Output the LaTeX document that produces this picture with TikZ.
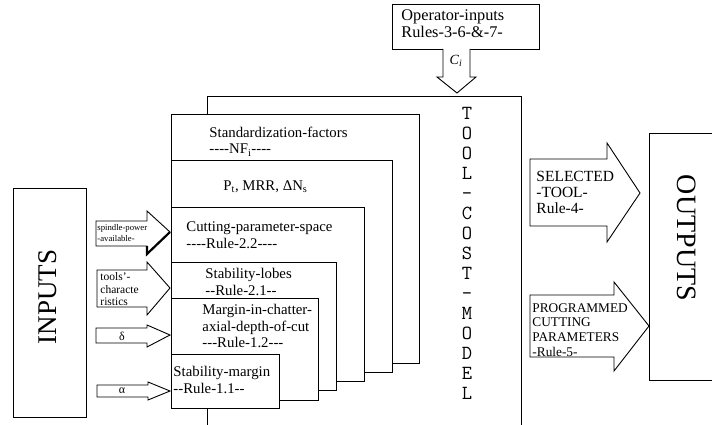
\documentclass[tikz,border=0pt]{standalone}
\usepackage{fontspec}
\setmainfont{Liberation Serif}
\newcommand\hy{-\kern0pt}
\begin{document}
\begin{tikzpicture}[x=1pt,y=-1pt,line width=0.9pt,
  box/.style={draw,fill=white},
  blockarrow/.style={draw,fill=white,line join=miter},
  txt/.style={inner sep=0pt,anchor=west,align=left,font=\fontsize{14.8}{16.5}\selectfont},
  ]
\useasboundingbox (0,0) rectangle (712,425);
\fill[white] (0,0) rectangle (712,425);

% tool cost model outer box
\draw[fill=white] (207,425) -- (207,96) -- (521,96) -- (521,425);
\node[inner sep=0pt,align=center,font=\ttfamily\fontsize{20}{20}\selectfont] (tcm) at (467,253)
  {T\\O\\O\\L\\-\\C\\O\\S\\T\\-\\M\\O\\D\\E\\L};

% nested boxes
\draw[box] (171,114) rectangle (419,363);
\draw[box] (171,160) rectangle (392,372);
\draw[box] (171,207) rectangle (364,381);
\draw[box] (171,262) rectangle (336,390);
\draw[box] (171,298) rectangle (318,400);
\draw[box] (171,354) rectangle (279,408);

\node[txt] (b1t) at (209,141.5) {Standardization-factors\\\hy\hy\hy\hy NF\textsubscript{i}\hy\hy\hy\hy};
\node[txt] (b2t) at (223,187) {P\textsubscript{t}, MRR, ΔN\textsubscript{s}};
\node[txt] (b3t) at (186,235) {Cutting-parameter-space\\\hy\hy\hy\hy Rule-2.2\hy\hy\hy\hy};
\node[txt] (b4t) at (205,282) {Stability-lobes\\\hy\hy Rule-2.1\hy\hy};
\node[txt] (b5t) at (202,326) {Margin-in-chatter-\\axial-depth-of-cut\\\hy\hy\hy Rule-1.2\hy\hy\hy};
\node[txt] (b6t) at (173,380) {Stability-margin\\\hy\hy Rule-1.1\hy\hy};

% operator inputs
\draw[box] (392,4) rectangle (539,49);
\node[txt,font=\fontsize{16.3}{17}\selectfont] (opt) at (401,23.5) {Operator-inputs\\Rules-3-6-\&-7-};
\draw[blockarrow] (443,49) -- (443,77) -- (437,77) -- (457,93) -- (476,77) -- (470,77) -- (470,49);
\node[inner sep=0pt,font=\fontsize{14}{14}\selectfont\itshape] (ci) at (456,61) {C\textsubscript{i}};

% inputs
\draw[box] (13,188) rectangle (86,417);
\node[rotate=90,inner sep=0pt,font=\fontsize{27}{27}\selectfont] (inp) at (48,297) {INPUTS};

\draw[blockarrow] (96,221) -- (147,221) -- (147,211) -- (170,232) -- (147,254) -- (147,246) -- (96,246) -- cycle;
\draw[line width=2.2pt] (147,246) -- (147,254) -- (170,232);
\node[txt,font=\fontsize{8.7}{11}\selectfont] (spt) at (97,233.5) {spindle-power\\-available-};

\draw[blockarrow] (97,270) -- (147,270) -- (147,262) -- (170,288) -- (147,315) -- (147,307) -- (97,307) -- cycle;
\node[txt,font=\fontsize{11.5}{12.5}\selectfont] (tct) at (100,289.5) {tools’-\\characte\\ristics};

\draw[blockarrow] (96,328) -- (147,328) -- (147,325) -- (170,335) -- (147,347) -- (147,343) -- (96,343) -- cycle;
\node[inner sep=0pt,font=\fontsize{12}{12}\selectfont] (dl) at (122,336) {δ};

\draw[blockarrow] (97,385) -- (148,385) -- (148,382) -- (170,391) -- (148,400) -- (148,397) -- (97,397) -- cycle;
\node[inner sep=0pt,font=\fontsize{12}{12}\selectfont] (al) at (122,391) {α};

% outputs
\draw[blockarrow] (530,159) -- (607,159) -- (607,143) -- (640,193) -- (607,242) -- (607,226) -- (530,226) -- cycle;
\node[txt,font=\fontsize{15.5}{16}\selectfont] (selt) at (536,192) {SELECTED\\-TOOL-\\Rule-4-};

\draw[blockarrow] (530,295) -- (614,295) -- (614,282) -- (649,326) -- (614,371) -- (614,357) -- (530,357) -- cycle;
\node[txt,font=\fontsize{13.3}{14.7}\selectfont] (prt) at (532,330) {PROGRAMMED\\CUTTING\\PARAMETERS\\-Rule-5-};

\draw (712,133) -- (649,133) -- (649,380) -- (712,380);
\node[rotate=-90,inner sep=0pt,font=\fontsize{28}{28}\selectfont] (outp) at (687,238) {OUTPUTS};
\end{tikzpicture}
\end{document}
